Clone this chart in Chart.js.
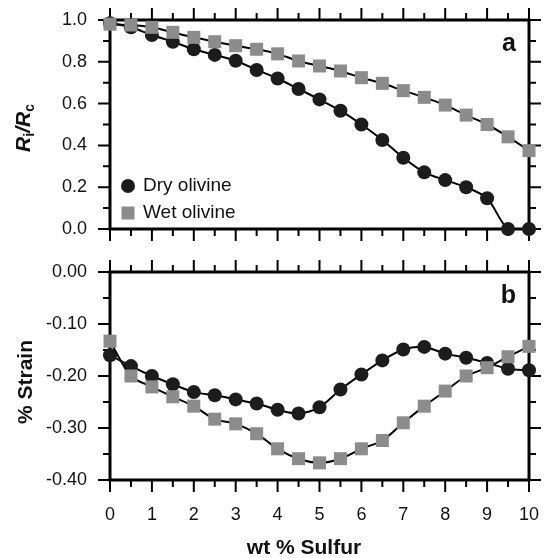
<!DOCTYPE html>
<html>
<head>
<meta charset="utf-8">
<script src="https://cdn.jsdelivr.net/npm/chart.js@4.4.1/dist/chart.umd.min.js"></script>
<style>
    body { margin: 0; background: #fff; }
    canvas { display: block; }
</style>
</head>
<body>
<canvas id="panelA" width="550" height="250"></canvas>
<canvas id="panelB" width="550" height="308"></canvas>
<script>
//################### Data ###################
const sulfur = [0, 0.5, 1, 1.5, 2, 2.5, 3, 3.5, 4, 4.5, 5, 5.5, 6, 6.5, 7, 7.5, 8, 8.5, 9, 9.5, 10];

// panel a: Ri/Rc
const dryRatio = [0.985, 0.965, 0.928, 0.896, 0.86, 0.833, 0.805, 0.761, 0.72, 0.67, 0.62, 0.566, 0.5, 0.426, 0.341, 0.271, 0.234, 0.2, 0.147, 0.0, 0.0];
const wetRatio = [0.98, 0.976, 0.965, 0.941, 0.917, 0.896, 0.877, 0.86, 0.838, 0.804, 0.78, 0.756, 0.724, 0.697, 0.662, 0.63, 0.593, 0.545, 0.5, 0.441, 0.375];

// panel b: % strain
const dryStrain = [-0.160, -0.181, -0.200, -0.216, -0.231, -0.237, -0.245, -0.253, -0.265, -0.272, -0.260, -0.226, -0.197, -0.170, -0.149, -0.144, -0.157, -0.165, -0.175, -0.186, -0.189];
const wetStrain = [-0.133, -0.200, -0.221, -0.240, -0.258, -0.283, -0.292, -0.311, -0.340, -0.359, -0.367, -0.359, -0.340, -0.324, -0.290, -0.258, -0.229, -0.200, -0.184, -0.163, -0.143];

const dryColor = '#1c1c1c';
const wetColor = '#8c8c8c';
const fontFamily = '"Liberation Sans", Arial, Helvetica, sans-serif';

function toPoints(ys) {
    return sulfur.map((x, i) => ({ x: x, y: ys[i] }));
}

// keep the plot box where the figure has it: no extra room for edge labels
function fixX(h) {
    return (s) => { s.height = h; s.paddingLeft = 0; s.paddingRight = 0; };
}
function fixY(s) {
    s.width = 110; s.paddingTop = 0; s.paddingBottom = 0;
}

//################### Frame and tick marks ###################
function drawFrame(chart, yMinorStep, yMajorStep) {
    const ctx = chart.ctx;
    const area = chart.chartArea;
    const xs = chart.scales.x;
    const ys = chart.scales.y;
    ctx.save();
    ctx.strokeStyle = '#000';
    ctx.lineWidth = 2;
    // x ticks, top and bottom, pointing out
    for (let v = 0; v <= 10.001; v += 0.5) {
        const px = xs.getPixelForValue(v);
        const len = Math.abs(v - Math.round(v)) < 0.01 ? 12 : 7;
        ctx.beginPath();
        ctx.moveTo(px, area.bottom);
        ctx.lineTo(px, area.bottom + len);
        ctx.moveTo(px, area.top);
        ctx.lineTo(px, area.top - len);
        ctx.stroke();
    }
    // y ticks, left and right, pointing out
    const n = Math.round((ys.max - ys.min) / yMinorStep);
    for (let i = 0; i <= n; i++) {
        const v = ys.min + i * yMinorStep;
        const py = ys.getPixelForValue(v);
        const r = (v - ys.min) / yMajorStep;
        const len = Math.abs(r - Math.round(r)) < 0.01 ? 12 : 7;
        ctx.beginPath();
        ctx.moveTo(area.left, py);
        ctx.lineTo(area.left - len, py);
        ctx.moveTo(area.right, py);
        ctx.lineTo(area.right + len, py);
        ctx.stroke();
    }
    ctx.lineWidth = 3;
    ctx.strokeRect(area.left, area.top, area.right - area.left, area.bottom - area.top);
    ctx.restore();
}

function drawPanelLetter(chart, letter, baseline) {
    const ctx = chart.ctx;
    ctx.save();
    ctx.fillStyle = '#111';
    ctx.font = 'bold 25px ' + fontFamily;
    ctx.textAlign = 'right';
    ctx.textBaseline = 'alphabetic';
    ctx.fillText(letter, 516, baseline);
    ctx.restore();
}

function drawVerticalTitle(ctx, parts, cx, cy) {
    ctx.save();
    ctx.translate(cx, cy);
    ctx.rotate(-Math.PI / 2);
    ctx.fillStyle = '#111';
    ctx.textBaseline = 'alphabetic';
    let total = 0;
    parts.forEach(p => { ctx.font = p.font; total += ctx.measureText(p.text).width; });
    let x = -total / 2;
    parts.forEach(p => {
        ctx.font = p.font;
        ctx.fillText(p.text, x, p.dy);
        x += ctx.measureText(p.text).width;
    });
    ctx.restore();
}

//################### Panel a ###################
function createRatioChart() {
    const ctxA = document.getElementById('panelA').getContext('2d');
    new Chart(ctxA, {
        type: 'line',
        data: {
            datasets: [{
                label: 'Wet olivine',
                data: toPoints(wetRatio),
                borderColor: '#000',
                borderWidth: 2,
                pointStyle: 'rect',
                pointRadius: 9.2,
                pointBackgroundColor: wetColor,
                pointBorderWidth: 0,
                tension: 0.3,
                clip: false,
            }, {
                label: 'Dry olivine',
                data: toPoints(dryRatio),
                borderColor: '#000',
                borderWidth: 2,
                pointStyle: 'circle',
                pointRadius: 7,
                pointBackgroundColor: dryColor,
                pointBorderWidth: 0,
                tension: 0.3,
                clip: false,
            }]
        },
        options: {
            responsive: false,
            animation: false,
            layout: { padding: { top: 20, right: 21, left: 0, bottom: 0 } },
            plugins: { legend: { display: false }, tooltip: { enabled: false } },
            scales: {
                x: {
                    type: 'linear', min: 0, max: 10,
                    grid: { display: false }, border: { display: false },
                    ticks: { display: false, stepSize: 1 },
                    afterFit: fixX(21)
                },
                y: {
                    min: 0, max: 1,
                    grid: { display: false }, border: { display: false },
                    ticks: {
                        stepSize: 0.2, padding: 15, color: '#111',
                        font: { size: 18, family: fontFamily },
                        callback: (v) => v.toFixed(1)
                    },
                    afterFit: fixY
                }
            }
        },
        plugins: [{
            id: 'frameA',
            beforeDatasetsDraw(chart) { drawFrame(chart, 0.1, 0.2); },
            afterDraw(chart) {
                const ctx = chart.ctx;
                drawPanelLetter(chart, 'a', 51);
                // legend
                ctx.save();
                ctx.fillStyle = dryColor;
                ctx.beginPath();
                ctx.arc(128, 186, 7, 0, Math.PI * 2);
                ctx.fill();
                ctx.fillStyle = wetColor;
                ctx.fillRect(121.5, 206.5, 13, 13);
                ctx.fillStyle = '#111';
                ctx.font = '19px ' + fontFamily;
                ctx.textBaseline = 'middle';
                ctx.fillText('Dry olivine', 143, 186);
                ctx.fillText('Wet olivine', 143, 213);
                ctx.restore();
                // y title R_i/R_c
                const big = 'italic bold 21px ' + fontFamily;
                const sub = 'bold 14px ' + fontFamily;
                drawVerticalTitle(ctx, [
                    { text: 'R', font: big, dy: 7 },
                    { text: 'i', font: sub, dy: 11 },
                    { text: '/', font: big, dy: 7 },
                    { text: 'R', font: big, dy: 7 },
                    { text: 'c', font: sub, dy: 11 }
                ], 23, 128);
            }
        }]
    });
}

//################### Panel b ###################
function createStrainChart() {
    const ctxB = document.getElementById('panelB').getContext('2d');
    new Chart(ctxB, {
        type: 'line',
        data: {
            datasets: [{
                label: 'Wet olivine',
                data: toPoints(wetStrain),
                borderColor: '#000',
                borderWidth: 2,
                pointStyle: 'rect',
                pointRadius: 9.2,
                pointBackgroundColor: wetColor,
                pointBorderWidth: 0,
                tension: 0.3,
                clip: false,
            }, {
                label: 'Dry olivine',
                data: toPoints(dryStrain),
                borderColor: '#000',
                borderWidth: 2,
                pointStyle: 'circle',
                pointRadius: 7,
                pointBackgroundColor: dryColor,
                pointBorderWidth: 0,
                tension: 0.3,
                clip: false,
            }]
        },
        options: {
            responsive: false,
            animation: false,
            layout: { padding: { top: 22, right: 21, left: 0, bottom: 0 } },
            plugins: { legend: { display: false }, tooltip: { enabled: false } },
            scales: {
                x: {
                    type: 'linear', min: 0, max: 10,
                    grid: { display: false }, border: { display: false },
                    ticks: {
                        stepSize: 1, padding: 16, color: '#111', maxRotation: 0,
                        font: { size: 18, family: fontFamily }
                    },
                    afterFit: fixX(78)
                },
                y: {
                    min: -0.4, max: 0,
                    grid: { display: false }, border: { display: false },
                    ticks: {
                        stepSize: 0.1, padding: 15, color: '#111',
                        font: { size: 18, family: fontFamily },
                        callback: (v) => v.toFixed(2)
                    },
                    afterFit: fixY
                }
            }
        },
        plugins: [{
            id: 'frameB',
            beforeDatasetsDraw(chart) { drawFrame(chart, 0.05, 0.1); },
            afterDraw(chart) {
                const ctx = chart.ctx;
                drawPanelLetter(chart, 'b', 53);
                drawVerticalTitle(ctx, [
                    { text: '% Strain', font: 'bold 21px ' + fontFamily, dy: 7 }
                ], 25, 132);
                ctx.save();
                ctx.fillStyle = '#111';
                ctx.font = 'bold 21px ' + fontFamily;
                ctx.textAlign = 'center';
                ctx.textBaseline = 'alphabetic';
                ctx.fillText('wt % Sulfur', 304, 304);
                ctx.restore();
            }
        }]
    });
}

window.onload = () => {
    createRatioChart();
    createStrainChart();
};
</script>
</body>
</html>
